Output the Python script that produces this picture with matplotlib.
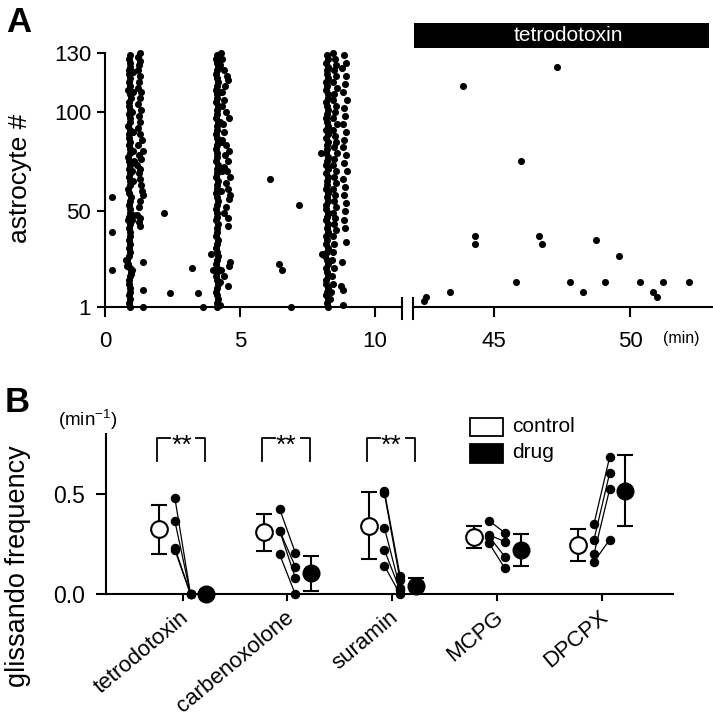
import matplotlib
matplotlib.use('Agg')
import matplotlib.pyplot as plt
from matplotlib.patches import Rectangle
from matplotlib.lines import Line2D
from matplotlib.transforms import ScaledTranslation

plt.rcParams['font.family'] = ['Liberation Sans', 'DejaVu Sans']
plt.rcParams['mathtext.fontset'] = 'custom'
plt.rcParams['mathtext.rm'] = 'Liberation Sans'

# ---------------- Panel A data ----------------
main_cells = list(range(1, 131, 2))
burst1_main = [0.92, 0.90, 0.93, 0.89, 0.91, 0.94, 0.90, 0.88, 0.92, 0.95,
               0.91, 0.86, 0.80, 0.89, 0.93, 0.90, 0.92, 0.88, 0.91, 0.94,
               0.89, 0.92, 0.87, 0.90, 0.93, 0.91, 0.88, 0.92, 0.95, 0.90,
               0.87, 0.91, 0.94, 0.89, 0.92, 0.88, 0.93, 0.90, 0.86, 0.91,
               0.94, 0.89, 0.92, 0.88, 0.90, 0.93, 0.87, 0.91, 0.94, 0.89,
               0.92, 0.88, 0.90, 0.95, 0.91, 0.87, 0.92, 0.89, 0.93, 0.90,
               0.88, 0.92, 0.94, 0.90, 0.91]
burst2_main = [4.17, 4.14, 4.18, 4.15, 4.12, 4.16, 4.19, 4.14, 4.13, 4.17,
               4.15, 4.10, 4.14, 4.18, 4.16, 4.13, 4.15, 4.19, 4.12, 4.16,
               4.14, 4.18, 4.11, 4.15, 4.17, 4.13, 4.16, 4.20, 4.14, 4.12,
               4.17, 4.15, 4.19, 4.13, 4.16, 4.14, 4.18, 4.12, 4.15, 4.17,
               4.13, 4.16, 4.20, 4.14, 4.11, 4.17, 4.15, 4.18, 4.13, 4.16,
               4.14, 4.19, 4.12, 4.15, 4.17, 4.13, 4.16, 4.18, 4.14, 4.12,
               4.16, 4.19, 4.15, 4.13, 4.17]
burst3_main = [8.25, 8.22, 8.27, 8.20, 8.24, 8.28, 8.21, 8.18, 8.25, 8.23,
               8.19, 8.26, 8.22, 8.15, 8.24, 8.27, 8.21, 8.23, 8.18, 8.25,
               8.22, 8.28, 8.20, 8.24, 8.26, 8.21, 8.19, 8.25, 8.23, 8.27,
               8.20, 8.24, 8.22, 8.28, 8.19, 8.25, 8.21, 8.23, 8.27, 8.20,
               8.24, 8.22, 8.26, 8.18, 8.25, 8.21, 8.28, 8.23, 8.20, 8.24,
               8.26, 8.22, 8.19, 8.25, 8.27, 8.21, 8.24, 8.20, 8.26, 8.23,
               8.22, 8.28, 8.20, 8.25, 8.24]

burst1_extra_cells = [130, 128, 126, 124, 121, 118, 115, 112, 110, 107, 104, 101, 98, 95,
                      92, 89, 86, 83, 80, 78, 76, 73, 71, 69, 66, 63, 60, 58, 55, 52, 48,
                      46, 44, 42, 24, 10, 1, 120, 110, 100, 90, 80, 75, 70, 65, 48, 45,
                      25, 22, 20, 18]
burst1_extra_times = [1.28, 1.22, 1.30, 1.25, 1.24, 1.30, 1.26, 1.24, 1.33, 1.28, 1.22, 1.35,
                      1.27, 1.30, 1.24, 1.29, 1.36, 1.23, 1.42, 1.27, 1.33, 1.20, 1.30, 1.25,
                      1.28, 1.34, 1.38, 1.40, 1.28, 1.25, 1.20, 1.30, 1.26, 1.28, 1.40, 1.40,
                      1.40, 1.02, 1.05, 1.00, 1.04, 1.02, 1.06, 1.00, 1.03, 1.05, 1.00, 0.78,
                      0.80, 1.00, 0.98]

burst2_extra_cells = [130, 127, 124, 121, 118, 116, 113, 110, 106, 103, 100, 97, 94, 90, 86,
                      83, 80, 78, 75, 72, 70, 67, 64, 61, 58, 56, 52, 49, 46, 42, 28, 24, 22,
                      20, 17, 12, 110, 95, 85, 70, 60, 20, 14, 2]
burst2_extra_times = [4.30, 4.35, 4.28, 4.40, 4.52, 4.55, 4.45, 4.35, 4.40, 4.32, 4.48, 4.60,
                      4.38, 4.42, 4.35, 4.50, 4.58, 4.45, 4.55, 4.40, 4.52, 4.62, 4.48, 4.55,
                      4.65, 4.60, 4.50, 4.40, 4.55, 4.56, 3.92, 4.62, 4.60, 4.00, 4.40, 4.56,
                      4.30, 4.28, 4.30, 4.32, 4.30, 4.30, 4.28, 4.25]

burst3_extra_cells = [130, 127, 124, 121, 118, 115, 112, 109, 106, 103, 100, 97, 94, 91, 88,
                      85, 82, 79, 76, 73, 70, 67, 64, 61, 58, 55, 52, 49, 46, 43, 40, 37, 33,
                      29, 25, 21, 17, 13, 9, 5,
                      129, 125, 122, 118, 114, 110, 106, 102, 98, 94, 90, 86, 82, 78, 74, 70,
                      66, 62, 58, 54, 50, 45, 41, 34, 24, 12, 10, 2,
                      79, 28]
burst3_extra_times = [8.45, 8.52, 8.58, 8.48, 8.55, 8.44, 8.60, 8.50, 8.46, 8.57, 8.53, 8.47,
                      8.59, 8.45, 8.52, 8.56, 8.48, 8.61, 8.50, 8.44, 8.55, 8.49, 8.58, 8.46,
                      8.53, 8.50, 8.57, 8.45, 8.52, 8.48, 8.55, 8.44, 8.50, 8.47, 8.42, 8.48,
                      8.40, 8.45, 8.38, 8.35,
                      8.85, 8.92, 8.80, 8.95, 8.88, 8.82, 8.97, 8.86, 8.90, 8.83, 8.94, 8.87,
                      8.81, 8.92, 8.86, 8.98, 8.84, 8.90, 8.85, 8.93, 8.88, 8.85, 8.90, 8.92,
                      8.77, 8.74, 8.83, 8.83,
                      8.00, 8.03]

sporadic_times = [0.25, 0.25, 0.25, 2.20, 2.42, 3.22, 3.45, 3.65, 6.10, 7.21, 6.46, 6.57, 6.89]
sporadic_cells = [57, 39, 20, 49, 8, 21, 8, 1, 66, 53, 23, 20, 1]

ttx_times = [42.42, 42.50, 43.37, 43.84, 44.30, 44.30, 45.79, 46.00, 46.64, 46.77, 47.32,
             47.80, 48.27, 48.74, 49.09, 49.60, 50.35, 50.84, 51.00, 51.21, 52.17]
ttx_cells = [4, 6, 9, 113, 37, 33, 14, 75, 37, 33, 123, 14, 9, 35, 14, 27, 14, 9, 6, 14, 14]

# ---------------- Panel B data ----------------
categories = ['tetrodotoxin', 'carbenoxolone', 'suramin', 'MCPG', 'DPCPX']
control_cells = [[0.483, 0.367, 0.233, 0.222],
                 [0.427, 0.318, 0.318, 0.200],
                 [0.517, 0.505, 0.333, 0.222, 0.143],
                 [0.367, 0.297, 0.288, 0.255],
                 [0.350, 0.272, 0.200, 0.163]]
drug_cells = [[0.0, 0.0, 0.0, 0.0],
              [0.208, 0.138, 0.083, 0.0],
              [0.092, 0.070, 0.030, 0.020, 0.0],
              [0.308, 0.263, 0.188, 0.130],
              [0.685, 0.605, 0.525, 0.272]]
control_mean = [0.325, 0.310, 0.343, 0.288, 0.247]
control_err = [0.121, 0.091, 0.167, 0.054, 0.079]
drug_mean = [0.0, 0.105, 0.042, 0.222, 0.518]
drug_err = [0.0, 0.087, 0.038, 0.078, 0.177]
significant = ['**', '**', '**', '', '']

W, H = 713, 720
fig = plt.figure(figsize=(W / 100, H / 100), dpi=100)

def fx(px):
    return px / W

def fy(py):
    return 1 - py / H

# ---------------- Panel A ----------------
a_bottom = fy(307.3)
a_height = (307.3 - 52.7) / H
axL = fig.add_axes([fx(105), a_bottom, (401.7 - 105) / W, a_height])
axR = fig.add_axes([fx(412.7), a_bottom, (711.7 - 412.7) / W, a_height])

dot_s = 26
for times in [burst1_main, burst2_main, burst3_main]:
    axL.scatter(times, main_cells, s=dot_s, c='k', linewidths=0, clip_on=False)
for t, c in [(burst1_extra_times, burst1_extra_cells), (burst2_extra_times, burst2_extra_cells),
             (burst3_extra_times, burst3_extra_cells), (sporadic_times, sporadic_cells)]:
    axL.scatter(t, c, s=dot_s, c='k', linewidths=0, clip_on=False)
axR.scatter(ttx_times, ttx_cells, s=dot_s, c='k', linewidths=0, clip_on=False)

for ax in (axL, axR):
    ax.set_ylim(1, 130)
    ax.spines['top'].set_visible(False)
    ax.spines['right'].set_visible(False)
    ax.spines['bottom'].set_linewidth(1.5)
    ax.spines['left'].set_linewidth(1.5)
    ax.tick_params(axis='x', direction='out', length=7, width=1.5, labelsize=16, pad=10)
    ax.tick_params(axis='y', direction='out', length=6, width=1.5, labelsize=16, pad=4)

axL.set_xlim(0, 11)
axL.set_xticks([0, 5, 10])
axL.set_yticks([1, 50, 100, 130])
axR.set_xlim(42, 53)
axR.set_xticks([45, 50])
axR.spines['left'].set_visible(False)
axR.set_yticks([])

# axis break marks
for px in (401.7, 412.7):
    fig.add_artist(Line2D([fx(px), fx(px)], [fy(297.5), fy(318.5)], color='k', lw=1.5,
                          transform=fig.transFigure))

# tetrodotoxin bar
axR.add_patch(Rectangle((42.03, 1.0196), 52.9 - 42.03, 0.096, facecolor='k', edgecolor='none',
                        transform=axR.get_xaxis_transform(), clip_on=False))
axR.text(47.74, 1.068, 'tetrodotoxin', color='white', fontsize=15, ha='center', va='center',
         transform=axR.get_xaxis_transform())
fig.text(fx(681), fy(338), '(min)', fontsize=11.5, ha='center', va='center')

fig.text(fx(20), fy(178), 'astrocyte #', fontsize=19, rotation=90, ha='center', va='center')
fig.text(fx(6), fy(6), 'A', fontsize=25, fontweight='bold', ha='left', va='top')

# ---------------- Panel B ----------------
axB = fig.add_axes([fx(106), fy(594.3), (673 - 106) / W, 160 / H])
axB.set_xlim(0.268, 5.68)
axB.set_ylim(0, 0.8)
axB.spines['top'].set_visible(False)
axB.spines['right'].set_visible(False)
axB.spines['bottom'].set_linewidth(1.5)
axB.spines['left'].set_linewidth(1.5)
axB.set_yticks([0.0, 0.5])
axB.set_yticklabels(['0.0', '0.5'])
positions = list(range(1, len(categories) + 1))
axB.set_xticks(positions)
axB.set_xticklabels(categories, rotation=40, ha='right', rotation_mode='anchor')
axB.tick_params(axis='y', direction='out', length=7, width=1.5, labelsize=16.5, pad=8)
axB.tick_params(axis='x', direction='out', length=5, width=1.5, labelsize=16, pad=4)
for lab in axB.get_xticklabels():
    lab.set_transform(lab.get_transform() + ScaledTranslation(-3 / 100, 0, fig.dpi_scale_trans))

off_cm, off_c, off_d, off_dm = -0.223, -0.075, 0.075, 0.225
for i, p in enumerate(positions):
    for cv, dv in zip(control_cells[i], drug_cells[i]):
        axB.plot([p + off_c, p + off_d], [cv, dv], color='k', lw=0.9, zorder=3, clip_on=False)
    axB.plot([p + off_c] * len(control_cells[i]), control_cells[i], 'o', color='k', ms=5.8,
             zorder=4, clip_on=False)
    axB.plot([p + off_d] * len(drug_cells[i]), drug_cells[i], 'o', color='k', ms=5.8,
             zorder=4, clip_on=False)
    axB.errorbar(p + off_cm, control_mean[i], yerr=control_err[i], fmt='none', ecolor='k',
                 elinewidth=1.5, capsize=6, capthick=1.5, zorder=3)
    axB.plot(p + off_cm, control_mean[i], 'o', mfc='white', mec='k', mew=1.5, ms=12, zorder=5,
             clip_on=False)
    if drug_err[i] > 0:
        axB.errorbar(p + off_dm, drug_mean[i], yerr=drug_err[i], fmt='none', ecolor='k',
                     elinewidth=1.5, capsize=6, capthick=1.5, zorder=3)
    axB.plot(p + off_dm, drug_mean[i], 'o', color='k', ms=12, zorder=5, clip_on=False)
    if significant[i]:
        xl, xr = p - 0.243, p + 0.213
        axB.plot([xl, xl, p - 0.12], [0.667, 0.78, 0.78], color='k', lw=1.3, clip_on=False)
        axB.plot([p + 0.13, xr, xr], [0.78, 0.78, 0.667], color='k', lw=1.3, clip_on=False)
        axB.text((xl + xr) / 2 + 0.005, 0.80, significant[i], fontsize=19, ha='center', va='top')

# legend
fig.add_artist(Rectangle((fx(470), fy(436)), (503 - 470) / W, 18 / H, facecolor='white',
                         edgecolor='k', lw=1.3, transform=fig.transFigure))
fig.add_artist(Rectangle((fx(470), fy(463)), (503 - 470) / W, 19 / H, facecolor='k',
                         edgecolor='k', lw=1.3, transform=fig.transFigure))
fig.text(fx(512.5), fy(427), 'control', fontsize=15, ha='left', va='center')
fig.text(fx(512.5), fy(452), 'drug', fontsize=15, ha='left', va='center')

fig.text(fx(58), fy(420), r'(min$^{\mathregular{-1}}$)', fontsize=13.5, ha='left', va='center')
fig.text(fx(18), fy(566), 'glissando frequency', fontsize=19.5, rotation=90, ha='center',
         va='center')
fig.text(fx(5), fy(386), 'B', fontsize=25, fontweight='bold', ha='left', va='top')

fig.savefig('out.png', dpi=100)
